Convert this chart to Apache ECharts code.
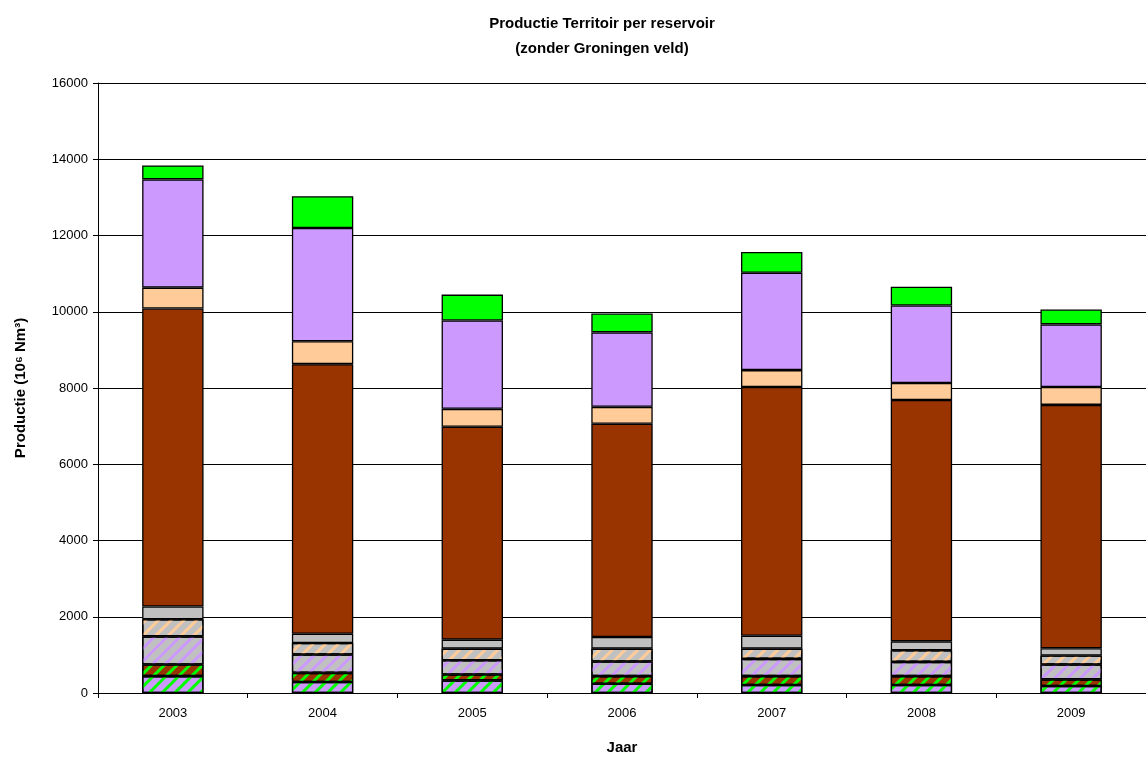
<!DOCTYPE html>
<html>
<head>
<meta charset="utf-8">
<script src="https://cdn.jsdelivr.net/npm/echarts@6/dist/echarts.min.js"></script>
<style>
  html, body { margin: 0; padding: 0; background: #fff; }
  #chart { width: 1146px; height: 760px; }
</style>
</head>
<body>
<div id="chart"></div>
<script>
// jaren
var years = ["2003", "2004", "2005", "2006", "2007", "2008", "2009"];

// segmenten van onder naar boven (10^6 Nm3)
var lavGreen   = [443, 287, 331, 242, 208, 208, 182];
var brownGreen = [305, 242, 156, 201, 235, 235, 175];
var greyLav    = [737, 479, 373, 383, 451, 373, 391];
var greyPeach  = [451, 303, 305, 339, 271, 304, 234];
var greySolid  = [331, 245, 234, 302, 338, 235, 191];
var brown      = [7818, 7069, 5585, 5595, 6523, 6332, 6384];
var peach      = [547, 600, 469, 443, 443, 443, 469];
var lavender   = [2840, 2970, 2319, 1954, 2554, 2033, 1642];
var green      = [365, 835, 678, 495, 547, 495, 391];

var yTicks = [0, 2000, 4000, 6000, 8000, 10000, 12000, 14000, 16000];

var LAV = "#CC99FF", GRN = "#00FF00", BRN = "#993300", PCH = "#FFCC99", GRY = "#C0C0C0";

function stripes(c) {
  return {
    symbol: "rect",
    symbolSize: 1,
    color: c,
    dashArrayX: [1, 0],
    dashArrayY: [3, 6],
    rotation: -Math.PI / 4
  };
}

function bar(name, data, color, stripe) {
  var s = {
    name: name,
    type: "bar",
    stack: "total",
    barWidth: "41%",
    data: data,
    itemStyle: { color: color, borderColor: "#000", borderWidth: 1.3 }
  };
  if (stripe) s.itemStyle.decal = stripes(stripe);
  return s;
}

var chart = echarts.init(document.getElementById("chart"));
chart.setOption({
  animation: false,
  aria: { enabled: false },
  title: {
    text: "Productie Territoir per reservoir\n(zonder Groningen veld)",
    left: 597,
    textAlign: "center",
    top: 6,
    textStyle: { fontFamily: "Liberation Sans", fontSize: 15, fontWeight: "bold", color: "#000", lineHeight: 25 }
  },
  grid: { left: 98, right: 0, top: 83, bottom: 63 },
  xAxis: {
    type: "category",
    data: years,
    name: "Jaar",
    nameLocation: "middle",
    nameGap: 47,
    nameTextStyle: { fontFamily: "Liberation Sans", fontSize: 15, fontWeight: "bold", color: "#000" },
    axisLine: { lineStyle: { color: "#000", width: 1 } },
    axisTick: { show: true, length: 5, lineStyle: { color: "#000" } },
    axisLabel: { fontFamily: "Liberation Sans", fontSize: 13, color: "#000", margin: 14 }
  },
  yAxis: {
    type: "value",
    min: 0,
    max: 16000,
    interval: 2000,
    name: "Productie (10\u2076 Nm\u00B3)",
    nameLocation: "middle",
    nameGap: 70,
    nameTextStyle: { fontFamily: "Liberation Sans", fontSize: 15, fontWeight: "bold", color: "#000" },
    axisLine: { show: true, lineStyle: { color: "#000", width: 1 } },
    axisTick: { show: true, length: 5, lineStyle: { color: "#000" } },
    axisLabel: {
      fontFamily: "Liberation Sans", fontSize: 13, color: "#000", margin: 10,
      formatter: function (v) { return yTicks.indexOf(v) >= 0 ? String(v) : ""; }
    },
    splitLine: { lineStyle: { color: "#000", width: 1 } }
  },
  series: [
    bar("s1", lavGreen, LAV, GRN),
    bar("s2", brownGreen, BRN, GRN),
    bar("s3", greyLav, GRY, LAV),
    bar("s4", greyPeach, GRY, PCH),
    bar("s5", greySolid, GRY),
    bar("s6", brown, BRN),
    bar("s7", peach, PCH),
    bar("s8", lavender, LAV),
    bar("s9", green, GRN)
  ]
});
</script>
</body>
</html>
